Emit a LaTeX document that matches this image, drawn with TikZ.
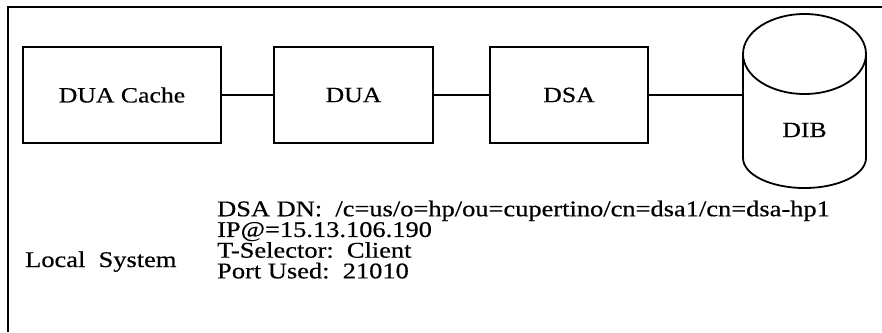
\documentclass[tikz,border=0pt]{standalone}
\usepackage{fontspec}
\setmainfont{Liberation Serif}
% widened, slightly heavier serif face for all labels
\newfontfamily\wideserif[FakeStretch=1.18, FakeBold=0.5]{Liberation Serif}
\begin{document}
\begin{tikzpicture}[x=1pt,y=-1pt,
  box/.style={draw, line width=1.8pt, minimum height=96pt, inner sep=0pt,
              font=\wideserif\fontsize{21.8}{24}\selectfont},
  link/.style={line width=1.6pt},
  frameline/.style={line width=2.2pt},
  txt/.style={inner sep=0pt, font=\wideserif\fontsize{22.4}{20.7}\selectfont}]
\useasboundingbox (0,0) rectangle (882,332);

% open frame (left and top edges only)
\draw[frameline] (8,332) -- (8,7) -- (882,7);

% boxes
\node[box, minimum width=198pt] (cache) at (122,95) {DUA Cache};
\node[box, minimum width=159pt] (dua) at (353.5,95) {DUA};
\node[box, minimum width=158pt] (dsa) at (569,95) {DSA};

% database cylinder
\node[minimum width=123pt, minimum height=174pt, inner sep=0pt] (dib) at (804.5,101) {};
\draw[line width=1.8pt] (804.5,54) ellipse [x radius=61.5pt, y radius=40pt];
\draw[line width=1.8pt] (743,54) -- (743,158)
   arc[start angle=180, end angle=360, x radius=61.5pt, y radius=30pt] -- (866,54);
\node[txt, font=\wideserif\fontsize{21.8}{24}\selectfont] (dibtext) at (804.5,130) {DIB};

% connectors
\draw[link] (cache.east) -- (dua.west);
\draw[link] (dua.east) -- (dsa.west);
\draw[link] (dsa.east) -- (dsa.east -| dib.west);

% system description
\node[txt, anchor=base west] (local) at (25,267) {Local\ \ System};
\node[txt, anchor=north west, align=left] (info) at (217,200.5) {%
  DSA DN:\ \ /c=us/o=hp/ou=cupertino/cn=dsa1/cn=dsa-hp1\\
  IP@=15.13.106.190\\
  T-Selector:\ \ Client\\
  Port Used:\ \ 21010};
\end{tikzpicture}
\end{document}
